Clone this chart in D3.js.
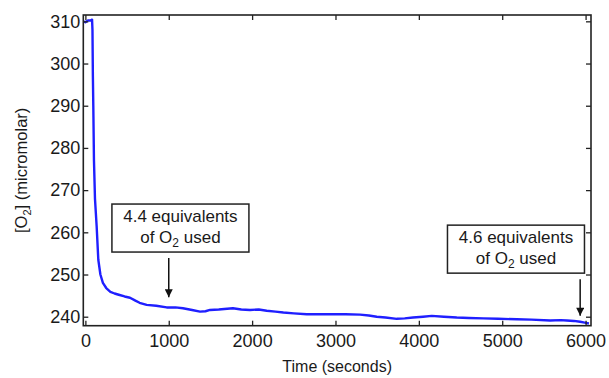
<!DOCTYPE html>
<html>
<head>
<meta charset="utf-8">
<script src="https://cdn.jsdelivr.net/npm/d3@7"></script>
<style>
  body { margin: 0; background: #fff; }
  text { font-family: "Liberation Sans", Arial, sans-serif; fill: #1a1a1a; }
</style>
</head>
<body>
<div id="chart"></div>
<script>
// time (s) and [O2] (micromolar)
var times = [-15, 0, 30, 60, 80, 85, 90, 95, 103, 115, 135, 155, 180, 210, 250, 300, 350, 400, 470, 535, 600, 650, 735,
  850, 975, 1080, 1170, 1280, 1375, 1440, 1495, 1600, 1700, 1770, 1870, 1975, 2080, 2175, 2280, 2375, 2500, 2655,
  2800, 2970, 3120, 3295, 3400, 3495, 3600, 3735, 3830, 3930, 4050, 4155, 4300, 4455, 4600, 4775, 4950, 5175,
  5350, 5575, 5700, 5775, 5860, 5935, 5990, 6040];
var o2 = [310.0, 309.8, 310.2, 310.2, 310.4, 308.0, 297.0, 290.0, 277.0, 268.0, 261.5, 253.5, 250.0, 248.0, 246.8, 245.9, 245.5, 245.2, 244.8, 244.5,
  243.8, 243.3, 242.8, 242.6, 242.2, 242.2, 242.0, 241.6, 241.2, 241.3, 241.6, 241.7, 241.9, 242.0, 241.7, 241.6, 241.7,
  241.4, 241.2, 241.0, 240.8, 240.6, 240.6, 240.6, 240.6, 240.5, 240.3, 240.0, 239.8, 239.5, 239.6, 239.8, 240.0,
  240.2, 240.0, 239.8, 239.7, 239.6, 239.5, 239.4, 239.3, 239.1, 239.2, 239.1, 239.0, 238.8, 238.6, 238.4];

var xTicks = [0, 1000, 2000, 3000, 4000, 5000, 6000];
var yTicks = [240, 250, 260, 270, 280, 290, 300, 310];

// annotation boxes: arrow at time t, from value v0 down to v1
var notes = [
  { line1: "4.4 equivalents", t: 1000, boxT: 1140, boxV: 266.7, v0: 253.9, v1: 244.6 },
  { line1: "4.6 equivalents", t: 5935, boxT: 5165, boxV: 261.7, v0: 248.9, v1: 240.2 }
];

var svgWidth = 609;
var svgHeight = 378;

var svg = d3.select("#chart")
  .append("svg")
  .attr("width", svgWidth)
  .attr("height", svgHeight);

var x = d3.scaleLinear().domain([-25, 6065]).range([83.3, 591]);
var y = d3.scaleLinear().domain([237.87, 311.5]).range([325.7, 15]);

var plotL = x.range()[0], plotR = x.range()[1];
var plotT = y.range()[1], plotB = y.range()[0];

svg.append("clipPath").attr("id", "clip")
  .append("rect")
  .attr("x", plotL).attr("y", plotT)
  .attr("width", plotR - plotL).attr("height", plotB - plotT);

// the trace
var line = d3.line()
  .x(function(d, i) { return x(times[i]); })
  .y(function(d) { return y(d); });

svg.append("path")
  .datum(o2)
  .attr("clip-path", "url(#clip)")
  .attr("fill", "none")
  .attr("stroke", "#1f1fff")
  .attr("stroke-width", 2.4)
  .attr("stroke-linejoin", "round")
  .attr("d", line);

// axes, ticks pointing inward
function styleAxis(g) {
  g.select(".domain").remove();
  g.selectAll(".tick line").attr("stroke", "#222").attr("stroke-width", 1.3);
  g.selectAll("text").style("font-size", "18px").attr("fill", "#1a1a1a");
}

svg.append("g")
  .attr("transform", "translate(0," + plotB + ")")
  .call(d3.axisBottom(x).tickValues(xTicks).tickSize(-5).tickPadding(8).tickFormat(d3.format("d")))
  .call(styleAxis)
  .selectAll("text").attr("dy", "0.75em");

svg.append("g")
  .attr("transform", "translate(0," + plotT + ")")
  .call(d3.axisTop(x).tickValues(xTicks).tickSize(-5).tickFormat(""))
  .call(styleAxis);

svg.append("g")
  .attr("transform", "translate(" + plotL + ",0)")
  .call(d3.axisLeft(y).tickValues(yTicks).tickSize(-5).tickPadding(3))
  .call(styleAxis);

svg.append("g")
  .attr("transform", "translate(" + plotR + ",0)")
  .call(d3.axisRight(y).tickValues(yTicks).tickSize(-5).tickFormat(""))
  .call(styleAxis);

// frame
svg.append("rect")
  .attr("x", plotL).attr("y", plotT)
  .attr("width", plotR - plotL).attr("height", plotB - plotT)
  .attr("fill", "none")
  .attr("stroke", "#222")
  .attr("stroke-width", 1.6);

// axis titles
svg.append("text")
  .attr("x", (plotL + plotR) / 2)
  .attr("y", 372)
  .attr("text-anchor", "middle")
  .style("font-size", "16px")
  .text("Time (seconds)");

var yLab = svg.append("text")
  .attr("transform", "translate(27," + ((plotT + plotB) / 2) + ") rotate(-90)")
  .attr("text-anchor", "middle")
  .style("font-size", "16.5px");
yLab.append("tspan").text("[O");
yLab.append("tspan").attr("dy", 4).style("font-size", "11px").text("2");
yLab.append("tspan").attr("dy", -4).text("] (micromolar)");

// annotations
svg.append("defs").append("marker")
  .attr("id", "head")
  .attr("viewBox", "0 0 10 10")
  .attr("refX", 10).attr("refY", 5)
  .attr("markerWidth", 9).attr("markerHeight", 8)
  .attr("markerUnits", "userSpaceOnUse")
  .attr("orient", "auto")
  .append("path")
  .attr("d", "M0,0L10,5L0,10Z")
  .attr("fill", "#111");

var boxW = 137, boxH = 48;

var note = svg.selectAll(".note")
  .data(notes)
  .enter().append("g")
  .attr("class", "note");

note.append("rect")
  .attr("x", function(d) { return x(d.boxT) - boxW / 2; })
  .attr("y", function(d) { return y(d.boxV); })
  .attr("width", boxW).attr("height", boxH)
  .attr("fill", "#fff")
  .attr("stroke", "#222")
  .attr("stroke-width", 1.5);

note.append("text")
  .attr("x", function(d) { return x(d.boxT); })
  .attr("y", function(d) { return y(d.boxV) + 18; })
  .attr("text-anchor", "middle")
  .style("font-size", "17px")
  .text(function(d) { return d.line1; });

var l2 = note.append("text")
  .attr("x", function(d) { return x(d.boxT); })
  .attr("y", function(d) { return y(d.boxV) + 39; })
  .attr("text-anchor", "middle")
  .style("font-size", "17px");
l2.append("tspan").text("of O");
l2.append("tspan").attr("dy", 4).style("font-size", "12px").text("2");
l2.append("tspan").attr("dy", -4).text(" used");

note.append("line")
  .attr("x1", function(d) { return x(d.t); })
  .attr("x2", function(d) { return x(d.t); })
  .attr("y1", function(d) { return y(d.v0); })
  .attr("y2", function(d) { return y(d.v1); })
  .attr("stroke", "#111")
  .attr("stroke-width", 1.5)
  .attr("marker-end", "url(#head)");
</script>
</body>
</html>
